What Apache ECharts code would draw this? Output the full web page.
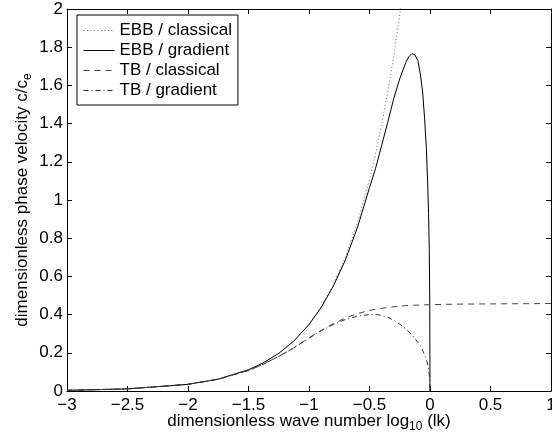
<!DOCTYPE html>
<html>
<head>
<meta charset="utf-8">
<script src="https://cdn.jsdelivr.net/npm/echarts@6/dist/echarts.min.js"></script>
<style>
  html, body { margin: 0; padding: 0; background: #fff; }
  #root { width: 552px; height: 439px; }
</style>
</head>
<body>
<div id="root"></div>
<script>
  // values (x = log10(lk), y = c/c_e)
  const ebbClassicalX = [-3, -2.5, -2, -1.75, -1.5, -1.375, -1.25, -1.125, -1, -0.9, -0.8, -0.7, -0.6, -0.5, -0.45, -0.4, -0.35, -0.3, -0.25, -0.2];
  const ebbClassicalY = [0.0035, 0.011, 0.035, 0.062, 0.111, 0.148, 0.197, 0.262, 0.35, 0.441, 0.555, 0.699, 0.879, 1.107, 1.242, 1.393, 1.563, 1.754, 1.97, 2.21];

  const ebbGradientX = [-3, -2.5, -2, -1.75, -1.5, -1.375, -1.25, -1.125, -1, -0.9, -0.8, -0.7, -0.6, -0.5, -0.45, -0.4, -0.35, -0.3, -0.25, -0.2, -0.175, -0.15, -0.125, -0.1, -0.08, -0.06, -0.045, -0.03, -0.02, -0.012, -0.006, -0.002, 0];
  const ebbGradientY = [0.0035, 0.011, 0.035, 0.062, 0.111, 0.148, 0.197, 0.262, 0.348, 0.437, 0.548, 0.685, 0.855, 1.065, 1.165, 1.285, 1.405, 1.53, 1.635, 1.72, 1.75, 1.766, 1.76, 1.73, 1.66, 1.56, 1.43, 1.27, 1.1, 0.93, 0.74, 0.45, 0];

  const tbClassicalX = [-3, -2.5, -2, -1.75, -1.5, -1.375, -1.25, -1.125, -1, -0.9, -0.8, -0.7, -0.6, -0.5, -0.4, -0.3, -0.2, -0.1, 0, 0.25, 0.5, 0.75, 1];
  const tbClassicalY = [0.0035, 0.011, 0.0348, 0.0616, 0.1076, 0.141, 0.181, 0.226, 0.278, 0.317, 0.352, 0.382, 0.405, 0.422, 0.433, 0.441, 0.447, 0.45, 0.452, 0.455, 0.456, 0.457, 0.458];

  const tbGradientX = [-3, -2.5, -2, -1.75, -1.5, -1.375, -1.25, -1.125, -1, -0.9, -0.8, -0.7, -0.6, -0.5, -0.45, -0.4, -0.35, -0.3, -0.25, -0.2, -0.15, -0.1, -0.07, -0.045, -0.025, -0.012, -0.005, 0];
  const tbGradientY = [0.0035, 0.011, 0.0348, 0.0616, 0.1076, 0.141, 0.181, 0.226, 0.277, 0.315, 0.348, 0.374, 0.392, 0.4, 0.401, 0.396, 0.386, 0.37, 0.35, 0.325, 0.295, 0.255, 0.225, 0.19, 0.155, 0.115, 0.075, 0];

  const seriesNames = ["EBB / classical", "EBB / gradient", "TB / classical", "TB / gradient"];

  const font = "'Liberation Sans', Arial, Helvetica, sans-serif";
  const pairs = (xs, ys) => xs.map((x, i) => [x, ys[i]]);
  const minus = (v) => String(v).replace("-", "\u2212");

  const lineSeries = (name, data, color, type) => ({
    name,
    type: "line",
    data,
    symbol: "none",
    animation: false,
    lineStyle: { color, width: 1, type },
    itemStyle: { color },
  });

  const tickAxis = {
    axisLine: { show: true, onZero: false, lineStyle: { color: "#000", width: 1 } },
    axisTick: { show: true, inside: true, length: 5, lineStyle: { color: "#000" } },
    splitLine: { show: false },
  };

  const nameStyle = {
    fontFamily: font, fontSize: 17, color: "#000", lineHeight: 24,
    rich: { sub: { fontFamily: font, fontSize: 12, color: "#000", lineHeight: 24, verticalAlign: "bottom" } },
  };

  const myChart = echarts.init(document.getElementById("root"), null, { renderer: "canvas" });
  const option = {
    backgroundColor: "#fff",
    animation: false,
    grid: { left: 67, right: 1, top: 9, bottom: 48, containLabel: false, outerBoundsMode: "none" },
    legend: {
      data: seriesNames,
      orient: "vertical",
      left: 77,
      top: 15,
      padding: [7, 6, 6, 6],
      itemWidth: 31,
      itemHeight: 14,
      itemGap: 3,
      borderColor: "#000",
      borderWidth: 1,
      backgroundColor: "#fff",
      itemStyle: { opacity: 0 },
      lineStyle: { width: 1 },
      textStyle: { fontFamily: font, fontSize: 17, color: "#000", lineHeight: 17 },
    },
    xAxis: [
      Object.assign({}, tickAxis, {
        type: "value",
        min: -3,
        max: 1,
        interval: 0.5,
        position: "bottom",
        axisLabel: { fontFamily: font, fontSize: 17, color: "#000", margin: 6, formatter: minus },
        name: "dimensionless wave number log{sub|10} (lk)",
        nameLocation: "middle",
        nameGap: 18,
        nameMoveOverlap: false,
        nameTextStyle: nameStyle,
      }),
      Object.assign({}, tickAxis, {
        type: "value",
        min: -3,
        max: 1,
        interval: 0.5,
        position: "top",
        axisLabel: { show: false },
      }),
    ],
    yAxis: [
      Object.assign({}, tickAxis, {
        type: "value",
        min: 0,
        max: 2,
        interval: 0.2,
        position: "left",
        axisLabel: { fontFamily: font, fontSize: 17, color: "#000", margin: 4 },
        name: "dimensionless phase velocity c/c{sub|e}",
        nameLocation: "middle",
        nameGap: 33,
        nameMoveOverlap: false,
        nameTextStyle: nameStyle,
      }),
      Object.assign({}, tickAxis, {
        type: "value",
        min: 0,
        max: 2,
        interval: 0.2,
        position: "right",
        axisLabel: { show: false },
      }),
    ],
    series: [
      lineSeries(seriesNames[0], pairs(ebbClassicalX, ebbClassicalY), "#6a6a6a", [1, 2.5]),
      lineSeries(seriesNames[1], pairs(ebbGradientX, ebbGradientY), "#000", "solid"),
      lineSeries(seriesNames[2], pairs(tbClassicalX, tbClassicalY), "#444", [6, 5]),
      lineSeries(seriesNames[3], pairs(tbGradientX, tbGradientY), "#333", [5, 3, 1, 3]),
    ],
  };
  myChart.setOption(option);
</script>
</body>
</html>
